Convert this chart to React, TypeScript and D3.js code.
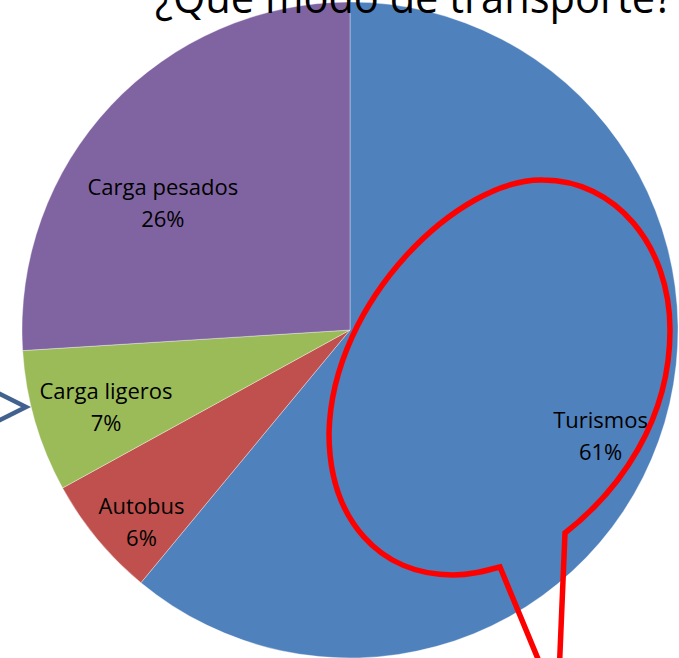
import React from "react";
import * as d3 from "d3";

const categories = ["Turismos", "Autobus", "Carga ligeros", "Carga pesados"];
const values = [61, 6, 7, 26];
const colors = ["#4F81BD", "#C0504D", "#9BBB59", "#8064A2"];
const title = "¿Qué modo de transporte?";

// label layout: [radius fraction, angle offset in degrees]
const labelLayout: [number, number][] = [
  [0.83, 3.2],
  [0.865, -3.1],
  [0.78, -1.3],
  [0.69, -9],
];

const W = 679;
const H = 658;
const cx = 350;
const cy = 330;
const R = 328;

export default function App() {
  const pie = d3.pie<number>().sort(null).value((d) => d);
  const arcs = pie(values);
  const arc = d3.arc<d3.PieArcDatum<number>>().innerRadius(0).outerRadius(R);
  const font = "'Open Sans', 'Liberation Sans', sans-serif";

  const callout = d3.path();
  callout.moveTo(558, 700);
  callout.lineTo(565, 533);
  callout.bezierCurveTo(620, 490, 670, 420, 670, 330);
  callout.bezierCurveTo(670, 245, 615, 180, 543, 180);
  callout.bezierCurveTo(460, 178, 332, 300, 329, 433);
  callout.bezierCurveTo(329, 520, 380, 575, 453, 575);
  callout.bezierCurveTo(470, 575, 485, 571, 500, 567);
  callout.lineTo(555, 700);

  return (
    <svg
      width={W}
      height={H}
      style={{ position: "absolute", left: 0, top: 0, background: "#fff" }}
    >
      <g transform={`translate(${cx},${cy})`}>
        {arcs.map((a, i) => (
          <path key={i} d={arc(a) || ""} fill={colors[i]} stroke="#ffffff" strokeWidth={0.6} strokeOpacity={0.6} />
        ))}
        {arcs.map((a, i) => {
          const [rf, off] = labelLayout[i];
          const ang = (a.startAngle + a.endAngle) / 2 + (off * Math.PI) / 180;
          const x = Math.sin(ang) * R * rf;
          const y = -Math.cos(ang) * R * rf;
          return (
            <text key={i} x={x} y={y} textAnchor="middle" fontFamily={font} fontSize={22} fill="#000">
              <tspan x={x} dy={-8}>{categories[i]}</tspan>
              <tspan x={x} dy={32}>{`${values[i]}%`}</tspan>
            </text>
          );
        })}
      </g>
      <text
        x={155}
        y={13}
        fontFamily={font}
        fontSize={44}
        fill="#000"
        textLength={518}
        lengthAdjust="spacingAndGlyphs"
      >
        {title}
      </text>
      <path
        d={callout.toString()}
        fill="none"
        stroke="#FF0000"
        strokeWidth={5.5}
        strokeLinejoin="miter"
      />
      <polyline points="-2,393 26,407 -2,421" fill="none" stroke="#41628E" strokeWidth={4.5} />
    </svg>
  );
}
